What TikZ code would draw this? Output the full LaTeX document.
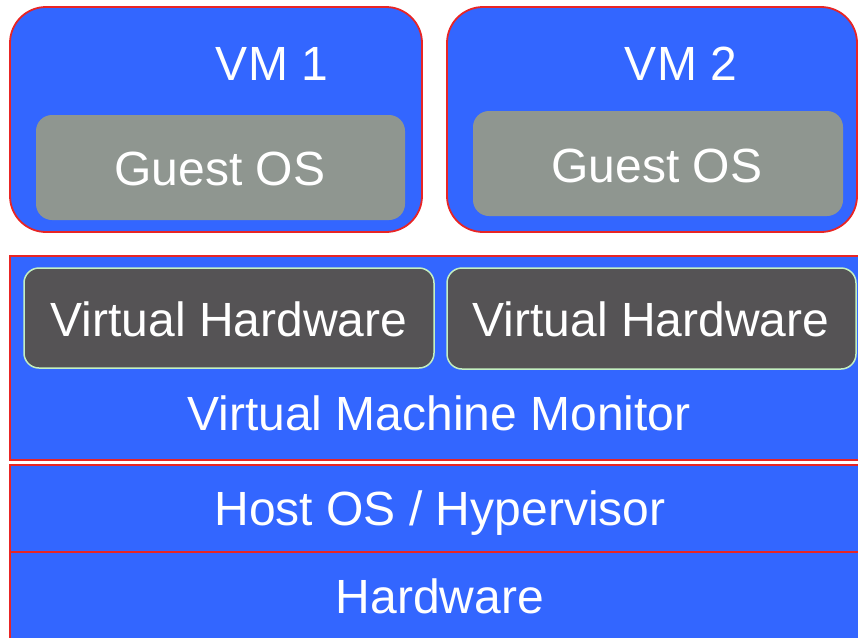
\documentclass[tikz,border=0pt]{standalone}
\usepackage{fontspec}
\setmainfont{Liberation Sans}
\definecolor{layerblue}{HTML}{3366FF}
\definecolor{edgered}{HTML}{E82525}
\definecolor{guestgray}{HTML}{8F9690}
\definecolor{hwgray}{HTML}{555355}
\definecolor{hwedge}{HTML}{C4F0C0}
\begin{document}
\begin{tikzpicture}[x=1pt,y=-1pt,
  layer/.style={draw=edgered, line width=1.8pt, fill=layerblue},
  vmbox/.style={layer, rounded corners=36pt},
  guestbox/.style={fill=guestgray, rounded corners=16pt},
  vhbox/.style={draw=hwedge, line width=1.5pt, fill=hwgray, rounded corners=15pt},
  lbl/.style={text=white, font=\fontsize{48}{56}\selectfont, anchor=base, inner sep=0pt}]
\useasboundingbox (0,0) rectangle (858,637);
\clip (0,0) rectangle (858,637);
% virtual machines
\path[vmbox] (10,7) rectangle (422,232);
\path[vmbox] (447,7) rectangle (857,232);
\path[guestbox] (36,115) rectangle (405,220);
\path[guestbox] (473,111) rectangle (843,216);
\node[lbl] (vm1) at (272,80) {VM 1};
\node[lbl] (vm2) at (681,80) {VM 2};
\node[lbl] (guest1) at (220,185) {Guest OS};
\node[lbl] (guest2) at (657,182) {Guest OS};
% monitor layer with its virtual hardware
\path[layer] (10,256) rectangle (880,460);
\path[vhbox] (24,268) rectangle (434,368);
\path[vhbox] (447,268) rectangle (856,369);
\node[lbl] (vh1) at (229,336) {Virtual Hardware};
\node[lbl] (vh2) at (651,336) {Virtual Hardware};
\node[lbl] (vmm) at (439,430) {Virtual Machine Monitor};
% host and hardware layers
\path[layer] (10,465) rectangle (880,552);
\path[layer] (10,552) rectangle (880,660);
\node[lbl] (host) at (440,525) {Host OS / Hypervisor};
\node[lbl] (hw) at (440,613) {Hardware};
\end{tikzpicture}
\end{document}
